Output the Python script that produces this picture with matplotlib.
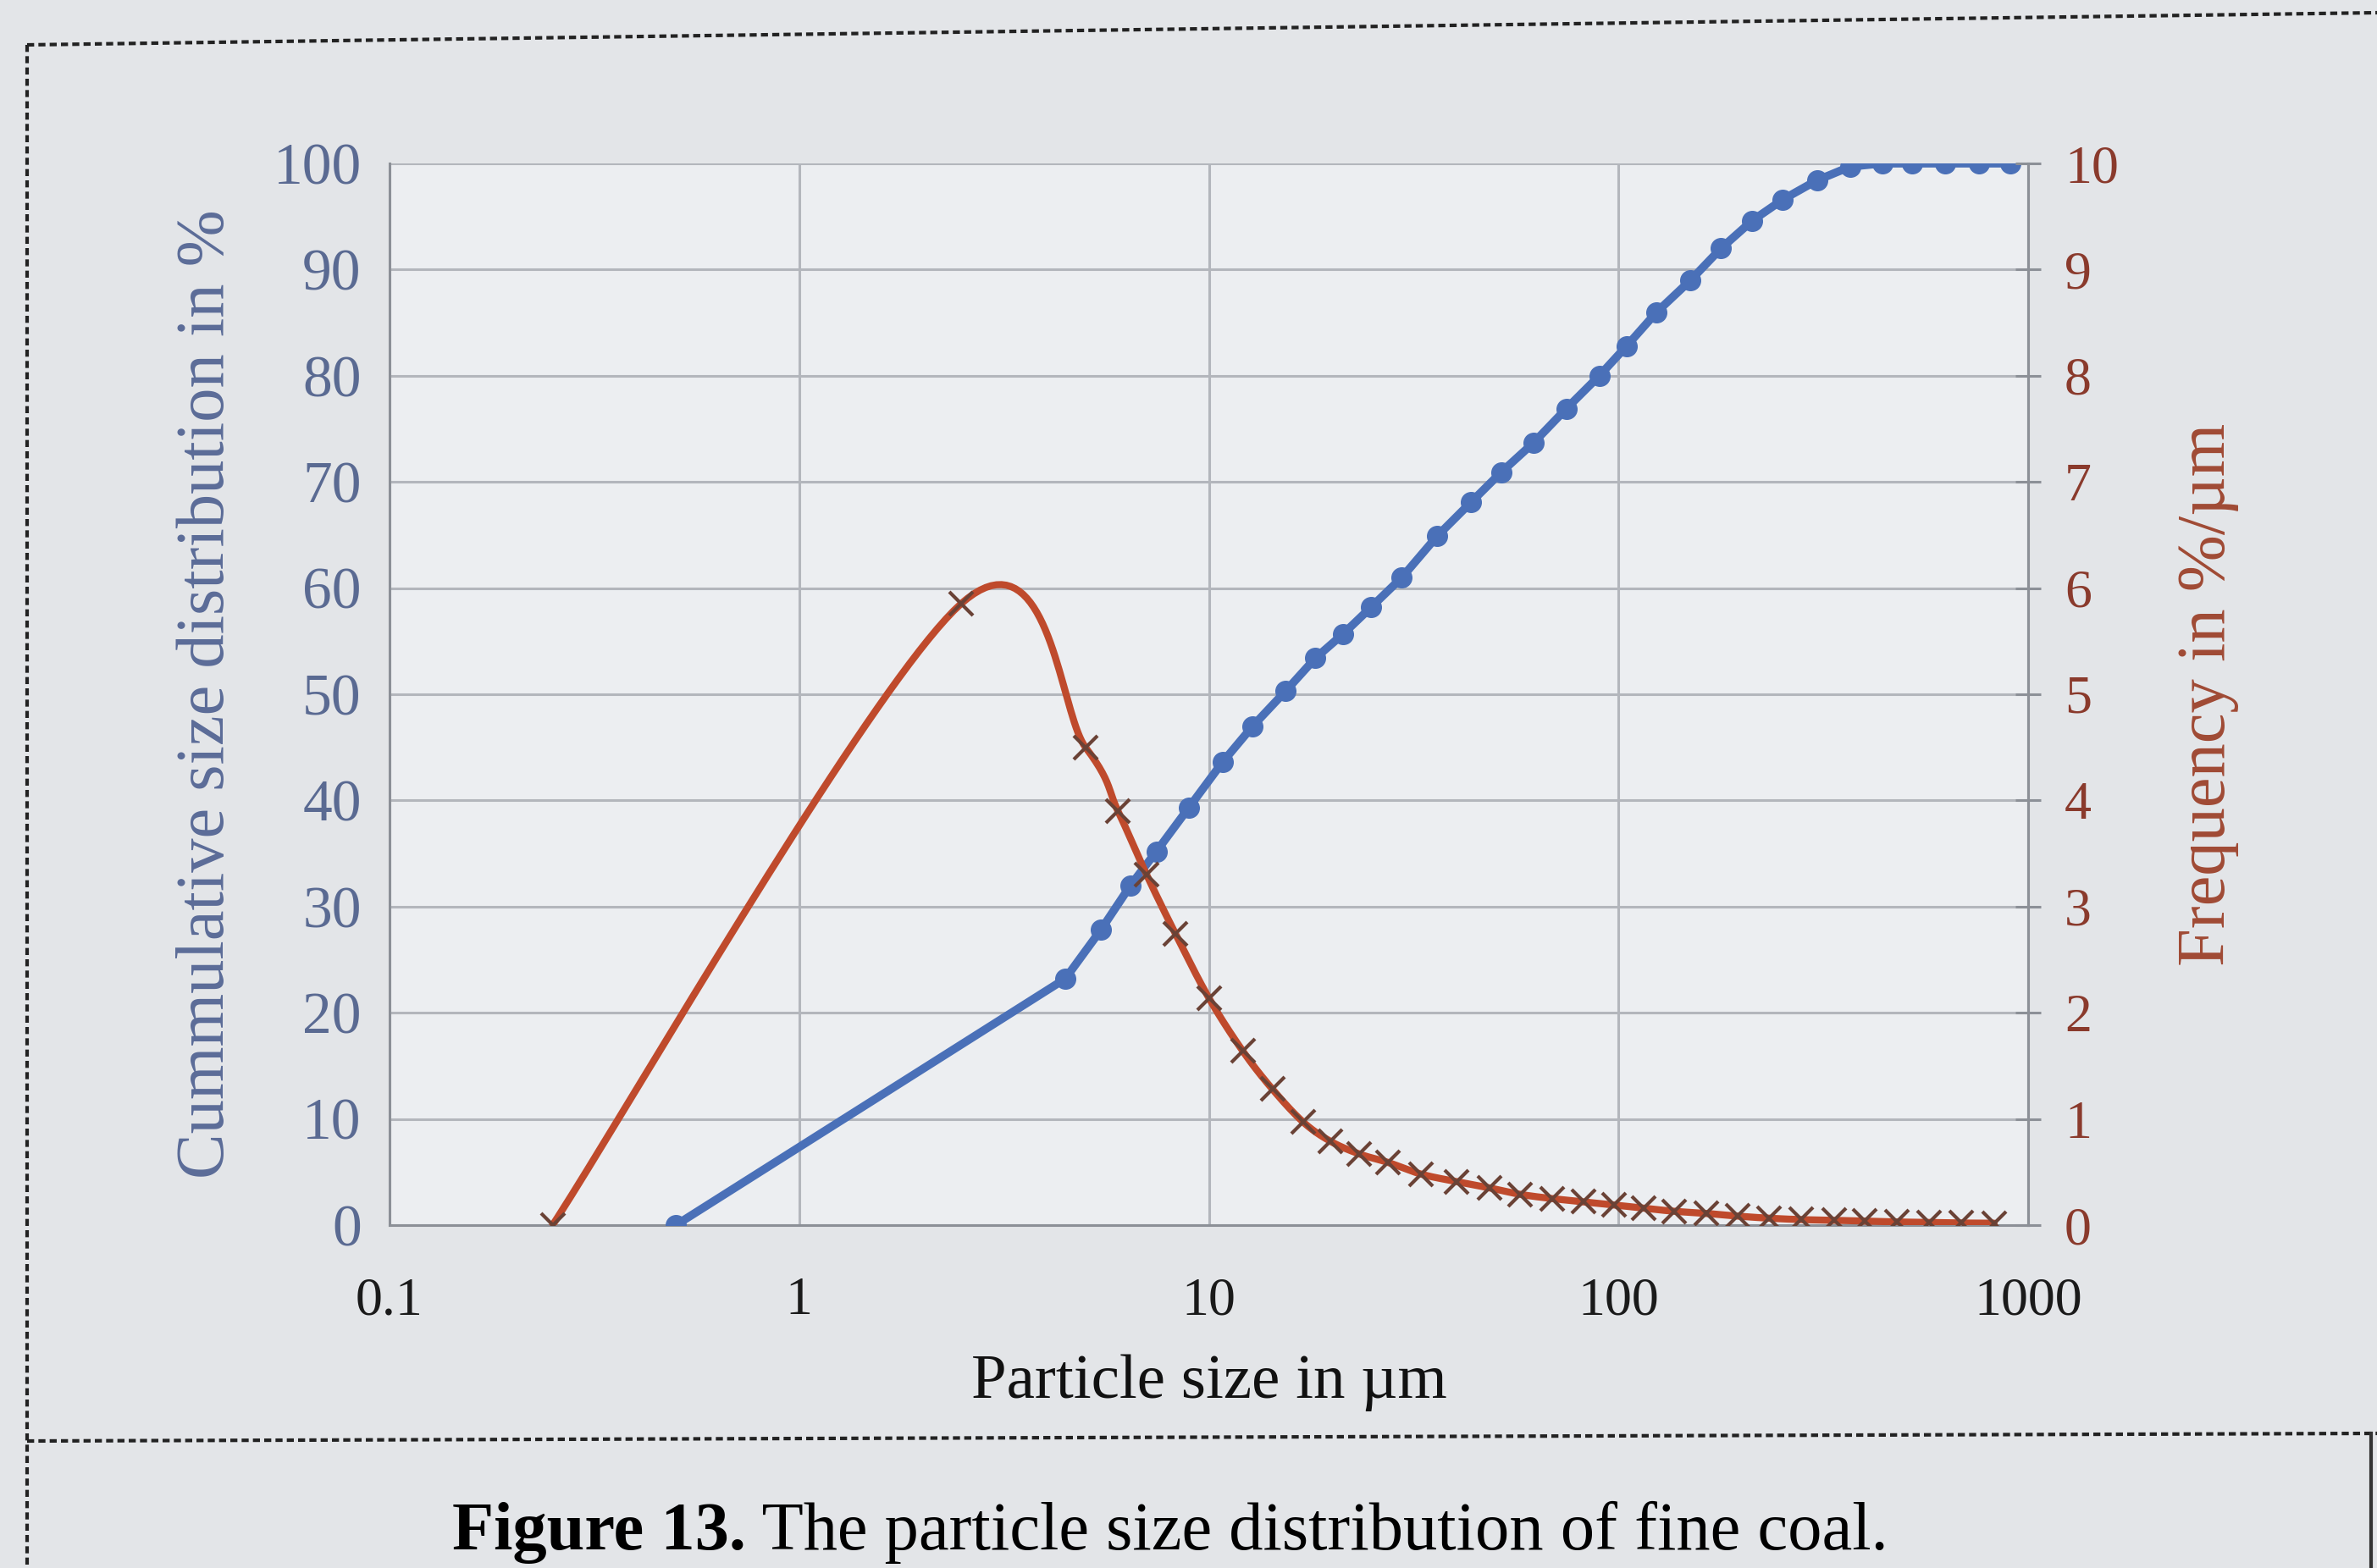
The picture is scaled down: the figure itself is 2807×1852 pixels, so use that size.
import numpy as np
import matplotlib
matplotlib.use("Agg")
import matplotlib.pyplot as plt
from matplotlib.lines import Line2D

# cumulative distribution (left axis)
size_um = [0.5, 4.46, 5.45, 6.44, 7.45, 8.93, 10.8, 12.8, 15.4, 18.2, 21.3, 24.9,
           29.6, 36.1, 43.7, 51.7, 62.1, 74.6, 89.8, 104.7, 124, 150, 178, 212,
           252, 305, 368, 440, 522, 627, 760, 904]
cum_pct = [0, 23.2, 27.8, 32.0, 35.2, 39.3, 43.6, 47.0, 50.3, 53.4, 55.7, 58.2,
           61.0, 64.9, 68.1, 70.9, 73.7, 76.9, 80.0, 82.8, 86.0, 89.0, 92.0, 94.6,
           96.6, 98.4, 99.7, 100, 100, 100, 100, 100]

# frequency (right axis), plotted at class midpoints
mid_um = [0.25, 2.48, 5.0, 6.0, 7.05, 8.3, 10.0, 12.1, 14.3, 17.0, 19.8, 23.3,
          27.4, 33.0, 40.2, 48.5, 57.5, 68.8, 82.0, 97.5, 115, 137, 164, 195,
          233, 279, 336, 400, 478, 572, 685, 826]
freq = [0, 5.85, 4.5, 3.9, 3.3, 2.74, 2.14, 1.64, 1.28, 0.97, 0.79, 0.67,
        0.59, 0.48, 0.41, 0.35, 0.29, 0.25, 0.22, 0.19, 0.16, 0.13, 0.11, 0.085,
        0.065, 0.052, 0.045, 0.038, 0.03, 0.025, 0.02, 0.018]

x_ticks = [0.1, 1, 10, 100, 1000]
x_tick_labels = ["0.1", "1", "10", "100", "1000"]

W_PX, H_PX = 2807, 1852
ax_left, ax_right, ax_top, ax_bottom = 460, 2395, 193, 1447

blue = "#4a70b8"
red = "#bf4a2c"
serif = "Liberation Serif"


def smooth_curve(xs, ys, dec_px, unit_px, n=40):
    # spreadsheet-style smoothed line: cardinal bezier in screen space
    u = np.log10(np.asarray(xs, float)) * dec_px
    v = np.asarray(ys, float) * unit_px
    p = np.column_stack([u, v])
    p = np.vstack([p[0], p, p[-1]])
    out = []
    t = np.linspace(0, 1, n)[:, None]
    for i in range(1, len(p) - 2):
        p0, p1, p2, p3 = p[i - 1], p[i], p[i + 1], p[i + 2]
        c1 = p1 + (p2 - p0) / 6.0
        c2 = p2 - (p3 - p1) / 6.0
        seg = ((1 - t) ** 3) * p1 + 3 * ((1 - t) ** 2) * t * c1 + 3 * (1 - t) * t ** 2 * c2 + t ** 3 * p2
        out.append(seg)
    out = np.vstack(out)
    return 10 ** (out[:, 0] / dec_px), out[:, 1] / unit_px


fig = plt.figure(figsize=(W_PX / 100, H_PX / 100), dpi=100)
fig.patch.set_facecolor("#e3e5e8")

ax = fig.add_axes([ax_left / W_PX, 1 - ax_bottom / H_PX,
                   (ax_right - ax_left) / W_PX, (ax_bottom - ax_top) / H_PX])
ax.set_facecolor("#eceef1")
ax.set_xscale("log")
ax.set_xlim(0.1, 1000)
ax.set_ylim(0, 100)

ax.grid(True, which="major", color="#b3b6bc", lw=2.2)
ax.minorticks_off()
ax.set_axisbelow(True)

ax.set_xticks(x_ticks)
ax.set_xticklabels(x_tick_labels)
ax.set_yticks(range(0, 101, 10))

ax.spines["top"].set_visible(False)
for s in ["left", "bottom", "right"]:
    ax.spines[s].set_color("#8c9097")
    ax.spines[s].set_linewidth(2.2)

ax.tick_params(axis="x", length=0, pad=44, labelsize=46, labelcolor="#1a1a1a")
ax.tick_params(axis="y", length=0, pad=24, labelsize=50, labelcolor="#5a6a92")
for lab in ax.get_xticklabels() + ax.get_yticklabels():
    lab.set_fontfamily(serif)

ax.plot(size_um, cum_pct, color=blue, lw=7, marker="o", ms=17,
        mfc=blue, mec=blue, zorder=3)

ax2 = ax.twinx()
ax2.set_ylim(0, 10)
ax2.set_yticks(range(0, 11))
ax2.tick_params(axis="y", direction="inout", length=22, width=2.2, color="#8c9097",
                pad=20, labelsize=46, labelcolor="#8a3a2c")
for lab in ax2.get_yticklabels():
    lab.set_fontfamily(serif)
for s in ["top", "left", "bottom"]:
    ax2.spines[s].set_visible(False)
ax2.spines["right"].set_color("#8c9097")
ax2.spines["right"].set_linewidth(2.2)

dec_px = (ax_right - ax_left) / 4.0
unit_px = (ax_bottom - ax_top) / 10.0
sx, sy = smooth_curve(mid_um, freq, dec_px, unit_px)
ax2.plot(sx, sy, color=red, lw=6, zorder=4, solid_capstyle="round")
ax2.plot(mid_um, freq, ls="none", marker="x", ms=20, mew=3, mec="#6a4236", zorder=5)
ax2.set_xlim(0.1, 1000)

ax.set_xlabel("Particle size in µm", fontsize=54, family=serif, color="#111111", labelpad=24)
ax.set_ylabel("Cummulative size distribution in %", fontsize=58, family=serif,
              color="#5b6c98", labelpad=30)
ax2.set_ylabel("Frequency in %/µm", fontsize=58, family=serif, color="#a04a34", labelpad=50)

# page frame of the printed figure
def fl(x0, y0, x1, y1, **kw):
    fig.add_artist(Line2D([x0 / W_PX, x1 / W_PX], [1 - y0 / H_PX, 1 - y1 / H_PX],
                          transform=fig.transFigure, **kw))

dash = dict(color="#222222", lw=3, ls=(0, (2, 1.2)))
fl(32, 53, 2807, 15, **dash)
fl(32, 53, 32, 1852, **dash)
fl(32, 1702, 2807, 1693, **dash)
fl(2800, 1693, 2800, 1852, color="#333333", lw=3)

cap = fig.text(534 / W_PX, 1 - 1830 / H_PX, "Figure 13.", fontsize=58, family=serif,
               weight="bold", ha="left", va="baseline")
ax.annotate(" The particle size distribution of fine coal.", xy=(1, 0), xycoords=cap,
            fontsize=58, family=serif, ha="left", va="bottom", annotation_clip=False)

fig.savefig("out.png", dpi=100, facecolor=fig.get_facecolor())
